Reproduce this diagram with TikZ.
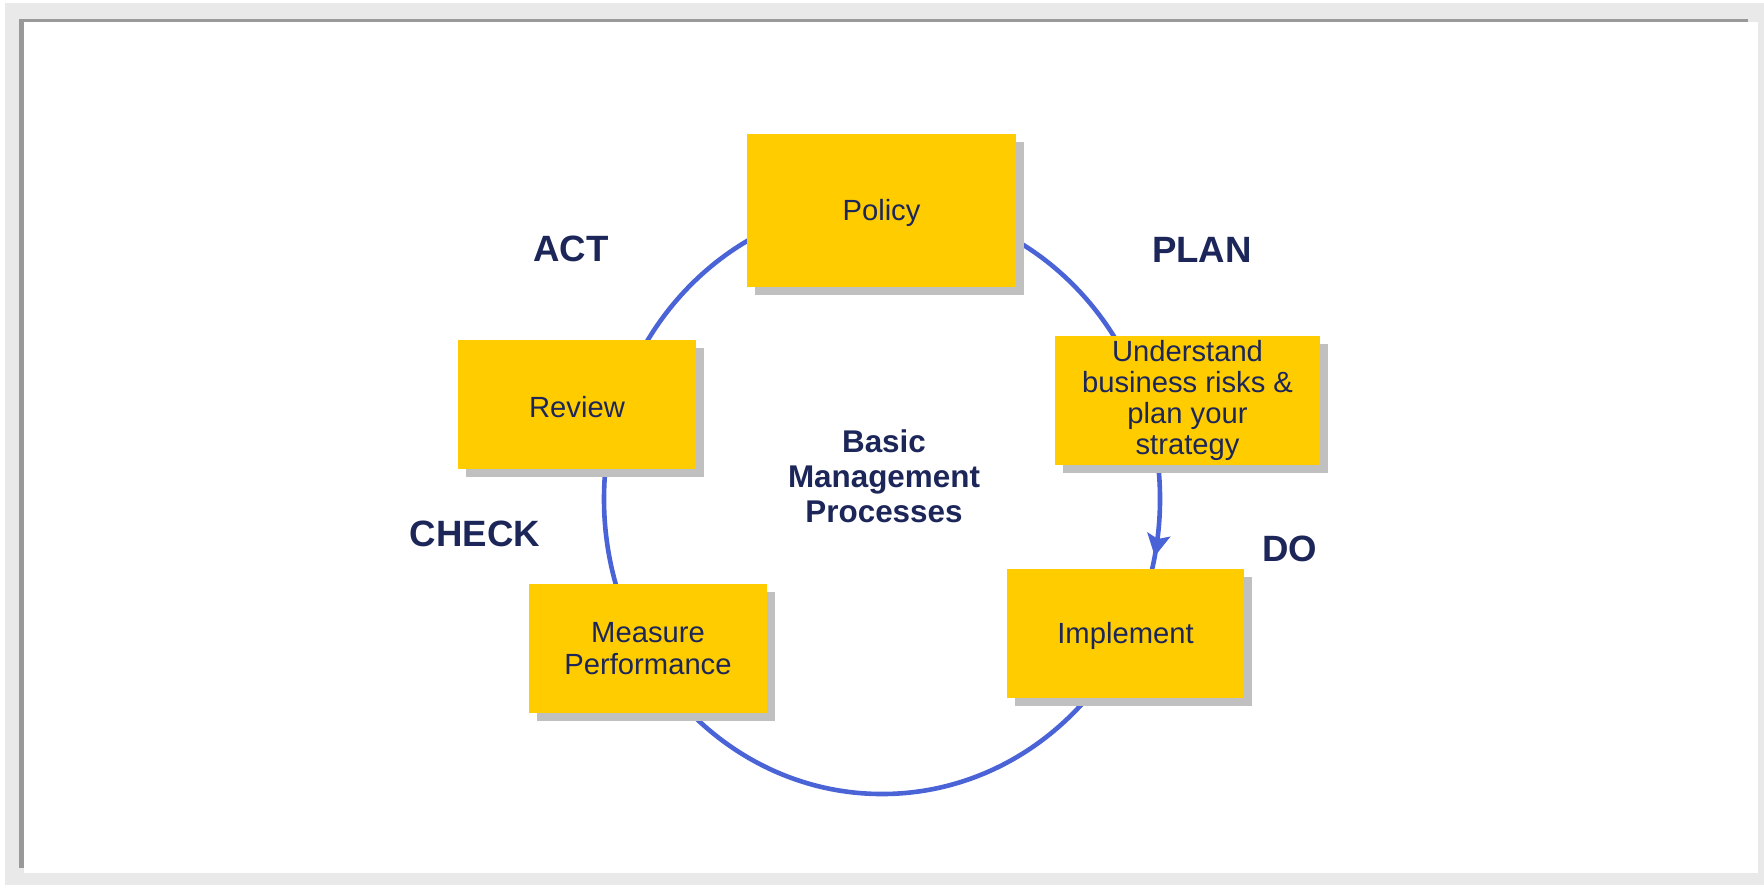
\documentclass[tikz,border=0pt]{standalone}
\usepackage{fontspec}
\setmainfont{Liberation Sans}
\usetikzlibrary{arrows.meta,shadows,decorations.markings}
\definecolor{boxyellow}{HTML}{FFCC00}
\definecolor{shadowgray}{HTML}{C0C0C0}
\definecolor{navy}{HTML}{1C2659}
\definecolor{ringblue}{HTML}{4A64D8}
\definecolor{framegray}{HTML}{999999}
\definecolor{outergray}{HTML}{E9E9E9}
\newcommand{\lowertext}[1]{\raisebox{-1.3pt}[\height][\depth]{#1}}
\tikzset{
  stagebox/.style={rectangle, fill=boxyellow, inner sep=0pt, align=center,
    text=navy, font=\fontsize{14.6}{15.6}\selectfont,
    drop shadow={shadow xshift=4pt, shadow yshift=-4pt, fill=shadowgray, opacity=1}},
  phase/.style={text=navy, font=\fontsize{18.3}{20}\selectfont\bfseries},
  ring/.style={draw=ringblue, line width=2.3pt},
}
\begin{document}
\begin{tikzpicture}[x=0.5pt,y=-0.5pt]
\useasboundingbox (0,0) rectangle (1764,885);
% frame
\fill[white] (0,0) rectangle (1764,885);
\fill[outergray] (5,3) rectangle (1764,885);
\fill[framegray] (19,19) rectangle (1748,868);
\fill[white] (24,22) rectangle (1758,873);
% cycle ring with arrow
\draw[ring, postaction={decorate},
  decoration={markings, mark=at position 0.032 with {\arrow[ringblue]{Stealth[length=11pt,width=11.5pt,inset=2.2pt]}}}]
  (882,499) ellipse [x radius=278, y radius=295];
% boxes
\node[stagebox, minimum width=134.5pt, minimum height=76.5pt] (policy) at (881.5,210.5) {\lowertext{Policy}};
\node[stagebox, minimum width=132.5pt, minimum height=64.5pt] (plan) at (1187.5,400.5) {Understand\\business risks \&\\plan your\\strategy};
\node[stagebox, minimum width=118.5pt, minimum height=64.5pt] (implement) at (1125.5,633.5) {\lowertext{Implement}};
\node[stagebox, minimum width=119pt, minimum height=64.5pt] (measure) at (648,648.5) {Measure\\Performance};
\node[stagebox, minimum width=119pt, minimum height=64.5pt] (review) at (577,404.5) {\lowertext{Review}};
% phase labels
\node[phase] (act) at (571,249) {ACT};
\node[phase] (planlbl) at (1202,250) {PLAN};
\node[phase] (do) at (1290,549) {DO};
\node[phase] (check) at (475,534) {CHECK};
% centre
\node[text=navy, align=center, font=\fontsize{15.7}{17.5}\selectfont\bfseries] (centre) at (884,476)
  {Basic\\Management\\Processes};
\end{tikzpicture}
\end{document}
